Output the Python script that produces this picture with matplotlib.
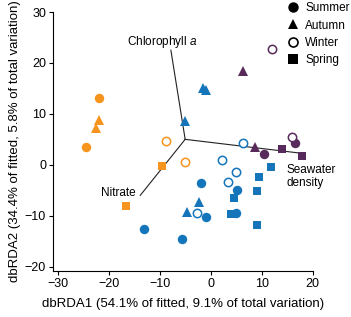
import matplotlib.pyplot as plt
from matplotlib.lines import Line2D

# site groups: colour per group
colors = {'A': '#f7941d', 'B': '#1575bb', 'C': '#572a5b'}

# points: (dbRDA1, dbRDA2)
orange_summer = [(-21.9, 13.2), (-24.5, 3.5)]
orange_autumn = [(-21.9, 8.8), (-22.4, 7.2)]
orange_winter = [(-8.8, 4.6), (-5.0, 0.6)]
orange_spring = [(-9.5, -0.2), (-16.6, -8.1)]

blue_summer = [(-13.1, -12.7), (-5.6, -14.6), (-1.9, -3.6), (5.1, -5.0), (-1.0, -10.2), (5.0, -9.5)]
blue_autumn = [(-5.0, 8.6), (-1.6, 15.0), (-1.0, 14.6), (-2.2, -7.4), (-4.7, -9.3)]
blue_winter = [(6.4, 4.3), (2.3, 0.9), (5.0, -1.4), (3.3, -3.3), (-2.6, -9.5)]
blue_spring = [(11.8, -0.4), (9.5, -2.3), (9.1, -5.1), (4.6, -6.6), (3.9, -9.7), (9.0, -11.8)]

purple_summer = [(16.5, 4.2), (10.5, 2.1)]
purple_autumn = [(6.4, 18.4), (8.7, 3.4)]
purple_winter = [(12.1, 22.7), (15.9, 5.4)]
purple_spring = [(13.9, 3.2), (17.8, 1.8)]

# biplot vectors
origin = (-5.0, 5.0)
vec_names = ['Chlorophyll $a$', 'Nitrate', 'Seawater\ndensity']
vec_ends = [(-7.8, 22.5), (-13.8, -6.0), (17.5, 2.3)]

plt.rcParams['font.family'] = 'Liberation Sans'
plt.rcParams['font.size'] = 8.5
plt.rcParams['mathtext.fontset'] = 'custom'
plt.rcParams['mathtext.it'] = 'Liberation Sans:italic'

fig = plt.figure(figsize=(3.51, 3.17), dpi=100)
ax = fig.add_axes([0.151, 0.146, 0.74, 0.816])

for (x, y) in vec_ends:
    ax.plot([origin[0], x], [origin[1], y], color='#222222', lw=0.8, zorder=1)

ax.text(-16.4, 24.1, vec_names[0], ha='left', va='center')
ax.text(-14.7, -5.5, vec_names[1], ha='right', va='center')
ax.text(14.8, -2.3, vec_names[2], ha='left', va='center', linespacing=1.05)

groups = [
    ('A', orange_summer, orange_autumn, orange_winter, orange_spring),
    ('B', blue_summer, blue_autumn, blue_winter, blue_spring),
    ('C', purple_summer, purple_autumn, purple_winter, purple_spring),
]
for g, summ, aut, win, spr in groups:
    c = colors[g]
    ax.plot([p[0] for p in summ], [p[1] for p in summ], 'o', ms=6.8, color=c, mew=0, zorder=3)
    ax.plot([p[0] for p in aut], [p[1] for p in aut], '^', ms=6.8, color=c, mew=0, zorder=3)
    ax.plot([p[0] for p in win], [p[1] for p in win], 'o', ms=6.0, mfc='white', mec=c, mew=1.1, zorder=3)
    ax.plot([p[0] for p in spr], [p[1] for p in spr], 's', ms=6.2, color=c, mew=0, zorder=3)

# legend
handles = [
    Line2D([], [], ls='', marker='o', ms=7.5, color='black', mew=0),
    Line2D([], [], ls='', marker='^', ms=7.5, color='black', mew=0),
    Line2D([], [], ls='', marker='o', ms=6.5, mfc='white', mec='black', mew=1.2),
    Line2D([], [], ls='', marker='s', ms=6.8, color='black', mew=0),
]
ax.legend(handles, ['Summer', 'Autumn', 'Winter', 'Spring'], loc='upper left',
          bbox_to_anchor=(0.822, 0.993), bbox_transform=fig.transFigure,
          frameon=False, handlelength=0.8, handletextpad=0.6,
          labelspacing=0.45, borderaxespad=0, borderpad=0)

ax.set_xlim(-30.9, 20)
ax.set_ylim(-20.8, 30)
ax.set_xticks([-30, -20, -10, 0, 10, 20])
ax.set_yticks([-20, -10, 0, 10, 20, 30])
ax.spines['top'].set_visible(False)
ax.spines['right'].set_visible(False)
ax.spines['left'].set_bounds(-20.8, 30)
ax.spines['bottom'].set_bounds(-30.9, 20)
ax.tick_params(length=3, width=0.8, pad=2, labelsize=9)
ax.set_xlabel('dbRDA1 (54.1% of fitted, 9.1% of total variation)', labelpad=6, fontsize=9.5)
ax.set_ylabel('dbRDA2 (34.4% of fitted, 5.8% of total variation)', labelpad=3, fontsize=9.5)

fig.savefig('out.png', dpi=100)
